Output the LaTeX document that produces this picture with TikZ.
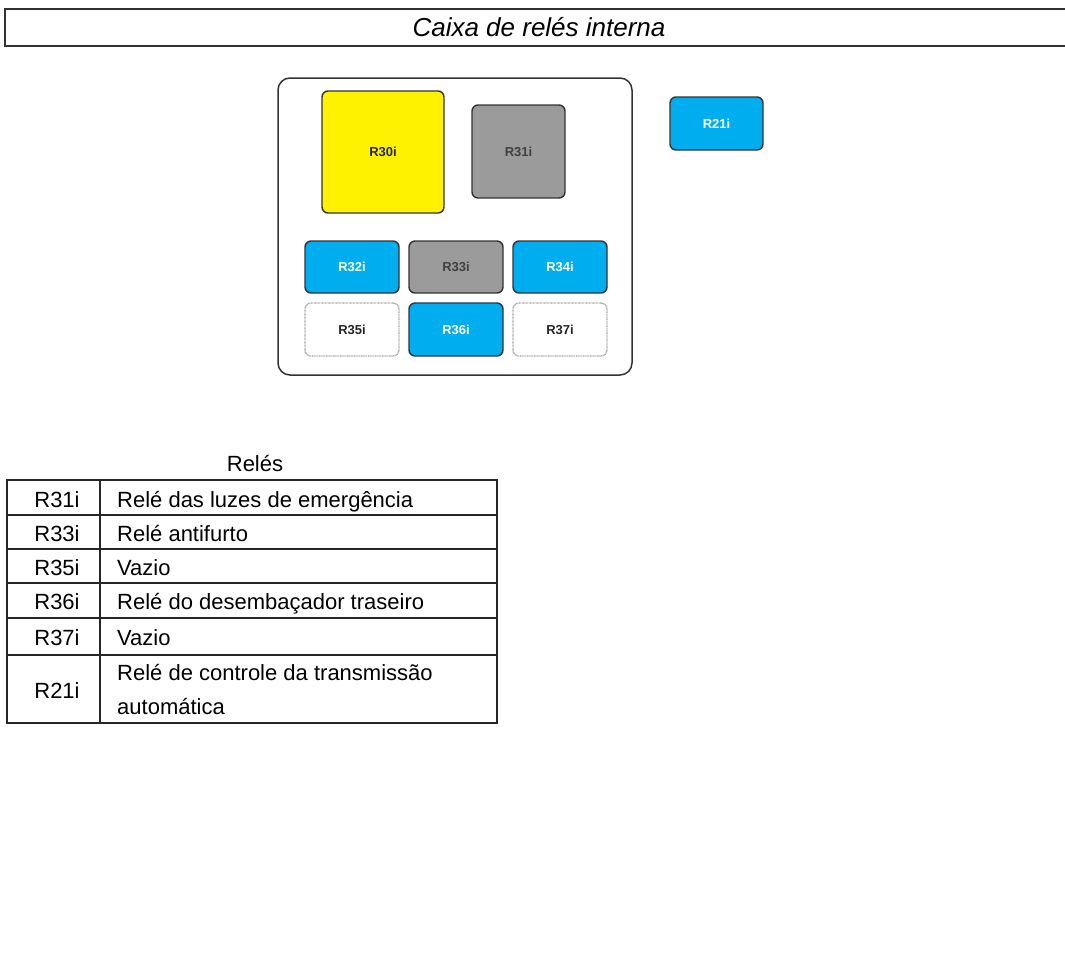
\documentclass[tikz,border=0pt]{standalone}
\usepackage{fontspec}
\setmainfont{Liberation Sans}
\definecolor{relyellow}{HTML}{FFF200}
\definecolor{relgray}{HTML}{9B9B9B}
\definecolor{relblue}{HTML}{00AEEF}
\definecolor{reledge}{HTML}{333333}
\tikzset{
    relay/.style={draw=reledge, line width=1.4pt, rounded corners=6pt,
        inner sep=0pt, font=\fontsize{13}{15}\selectfont\bfseries},
    emptyrelay/.style={relay, draw=gray!70, dash pattern=on 0.8pt off 0.6pt, fill=white},
    celltext/.style={font=\fontsize{22}{26}\selectfont, inner sep=0pt, anchor=base}
}
\begin{document}
\begin{tikzpicture}[x=1pt, y=-1pt]
    \useasboundingbox (0,0) rectangle (1065,958);

    % --- Title bar (runs off the right edge) ---
    \draw[line width=2.5pt, draw=reledge] (5,9) rectangle (1075,46);
    \node[font=\fontsize{26}{30}\selectfont\itshape, inner sep=0pt, anchor=base] (title) at (539,37) {Caixa de relés interna};

    % --- Relay box ---
    \draw[line width=1.5pt, draw=reledge, rounded corners=12pt] (278,78) rectangle (632,375);

    \node[relay, fill=relyellow, text=black!85, minimum width=122pt, minimum height=122pt] (r30) at (383,152) {R30i};
    \node[relay, fill=relgray, text=black!75, minimum width=93pt, minimum height=93pt] (r31) at (518.5,151.5) {R31i};

    % row of small relays
    \node[relay, fill=relblue, text=white, minimum width=94pt, minimum height=52pt] (r32) at (352,267) {R32i};
    \node[relay, fill=relgray, text=black!75, minimum width=94pt, minimum height=52pt] (r33) at (456,267) {R33i};
    \node[relay, fill=relblue, text=white, minimum width=94pt, minimum height=52pt] (r34) at (560,267) {R34i};

    \node[emptyrelay, text=black!85, minimum width=94pt, minimum height=53pt] (r35) at (352,329.5) {R35i};
    \node[relay, fill=relblue, text=white, minimum width=94pt, minimum height=53pt] (r36) at (456,329.5) {R36i};
    \node[emptyrelay, text=black!85, minimum width=94pt, minimum height=53pt] (r37) at (560,329.5) {R37i};

    % separate relay
    \node[relay, fill=relblue, text=white, minimum width=93pt, minimum height=53pt] (r21) at (716.5,123.5) {R21i};

    % --- Legend table ---
    \node[celltext] (head) at (255,471) {Relés};
    \draw[line width=1.8pt, draw=black!85] (7,480) rectangle (497,723);
    \draw[line width=1.8pt, draw=black!85] (100,480) -- (100,723);
    \foreach \yy in {515,549,583,618,655}
        \draw[line width=1.8pt, draw=black!85] (7,\yy) -- (497,\yy);

    \foreach \id/\desc/\yy in {R31i/Relé das luzes de emergência/507,
                               R33i/Relé antifurto/541.5,
                               R35i/Vazio/575,
                               R36i/Relé do desembaçador traseiro/609,
                               R37i/Vazio/645} {
        \node[celltext] (id-\id) at (57,\yy) {\id};
        \node[celltext, anchor=base west] (desc-\id) at (117,\yy) {\desc};
    }
    \node[celltext] (id-R21i) at (57,698) {R21i};
    \node[celltext, anchor=base west] (desc-R21i) at (117,680) {Relé de controle da transmissão};
    \node[celltext, anchor=base west] (desc-R21i-b) at (117,714) {automática};
\end{tikzpicture}
\end{document}
